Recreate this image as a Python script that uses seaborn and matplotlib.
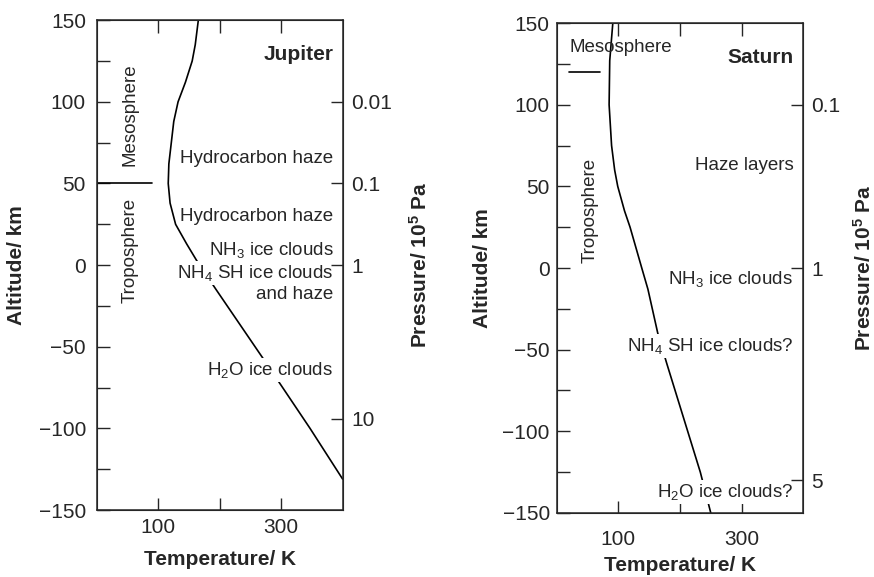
import matplotlib
matplotlib.use("Agg")
import matplotlib.pyplot as plt
import seaborn as sns
import pandas as pd
from matplotlib.ticker import MultipleLocator

# temperature profiles (altitude in km, temperature in K)
jup_alt = [150, 135, 125, 112, 100, 88, 75, 62, 50, 38, 25, 13, 3, -15, -58, -100, -131]
jup_temp = [165, 160, 155, 144, 132, 125, 121, 117, 116, 119, 128, 146, 162, 194, 272, 347, 400]

sat_alt = [150, 127, 100, 75, 60, 50, 35, 25, 0, -13, -40, -59, -125, -150]
sat_temp = [91, 86, 85, 89, 94, 99, 110, 119, 138, 148, 164, 179, 233, 250]

# pressure axis: altitude positions and labels
jup_p_alt = [100, 50, 0, -94]
jup_p_lab = ["0.01", "0.1", "1", "10"]
sat_p_alt = [100, 0, -130]
sat_p_lab = ["0.1", "1", "5"]

# cloud / layer labels: (temperature, altitude, text)
jup_notes = [
    (385, 65, "Hydrocarbon haze"),
    (385, 30, "Hydrocarbon haze"),
    (385, 9, "NH$_3$ ice clouds"),
    (385, -5, "NH$_4$ SH ice clouds"),
    (385, -18, "and haze"),
    (385, -64, "H$_2$O ice clouds"),
]
sat_notes = [
    (384, 63, "Haze layers"),
    (384, -7, "NH$_3$ ice clouds"),
    (384, -48, "NH$_4$ SH ice clouds?"),
    (384, -137, "H$_2$O ice clouds?"),
]

sns.set_style("ticks")
plt.rcParams["font.family"] = ["Liberation Sans", "DejaVu Sans"]
plt.rcParams["mathtext.default"] = "regular"
FS = 13.5      # annotations
TFS = 15       # tick labels
LFS = 15       # axis labels

fig = plt.figure(figsize=(8.74, 5.77), dpi=100)
ax1 = fig.add_axes([0.111, 0.116, 0.281, 0.849])
ax2 = fig.add_axes([0.637, 0.111, 0.282, 0.849])


def draw_panel(ax, alt, temp, notes, p_alt, p_lab, name, xpad, ypad):
    df = pd.DataFrame({"T": temp, "z": alt})
    sns.lineplot(data=df, x="T", y="z", sort=False, estimator=None,
                 color="black", lw=1.2, ax=ax)
    ax.set_xlim(0, 400)
    ax.set_ylim(-150, 150)
    ax.set_xticks([100, 200, 300])
    ax.set_xticklabels(["100", "", "300"])
    ax.yaxis.set_major_locator(MultipleLocator(50))
    ax.yaxis.set_minor_locator(MultipleLocator(25))
    ax.tick_params(axis="y", which="both", direction="in", length=9,
                   width=1, labelsize=TFS, left=True, right=False, pad=ypad)
    ax.tick_params(axis="x", direction="in", length=9, width=1,
                   labelsize=TFS, top=True, pad=xpad)
    ax.set_yticklabels([f"{int(v)}".replace("-", "\u2212")
                        for v in ax.get_yticks()])
    for s in ax.spines.values():
        s.set_linewidth(1.1)
    for t, z, txt in notes:
        ax.text(t, z, txt, ha="right", va="center", fontsize=FS,
                bbox=dict(facecolor="white", edgecolor="none", pad=1.5))
    ax.text(385, 129, name, ha="right", va="center", fontsize=TFS,
            fontweight="bold")
    ax.set_xlabel("Temperature/ K", fontsize=LFS, fontweight="bold")
    ax.set_ylabel("Altitude/ km", fontsize=LFS, fontweight="bold")

    axr = ax.twinx()
    axr.set_ylim(-150, 150)
    axr.set_yticks(p_alt)
    axr.set_yticklabels(p_lab)
    axr.tick_params(axis="y", direction="in", length=9, width=1,
                    labelsize=TFS, pad=6)
    axr.set_ylabel("Pressure/ 10$^5$ Pa", fontsize=LFS, fontweight="bold")
    return axr


r1 = draw_panel(ax1, jup_alt, jup_temp, jup_notes, jup_p_alt, jup_p_lab,
                "Jupiter", 6, 8)
r2 = draw_panel(ax2, sat_alt, sat_temp, sat_notes, sat_p_alt, sat_p_lab,
                "Saturn", 12, 5)

# Jupiter layer boundaries
ax1.plot([0, 90], [50, 50], color="black", lw=1.2)
ax1.text(54, 92, "Mesosphere", rotation=90, ha="center", va="center",
         fontsize=FS)
ax1.text(54, 9, "Troposphere", rotation=90, ha="center", va="center",
         fontsize=FS)

# Saturn layer boundaries
ax2.plot([20, 70], [120, 120], color="black", lw=1.2)
ax2.text(20, 135, "Mesosphere", ha="left", va="center", fontsize=FS)
ax2.text(54, 35, "Troposphere", rotation=90, ha="center", va="center",
         fontsize=FS, bbox=dict(facecolor="white", edgecolor="none", pad=1))

ax1.yaxis.set_label_coords(-0.29, 0.5)
ax2.yaxis.set_label_coords(-0.264, 0.5)
r1.yaxis.set_label_coords(1.27, 0.5)
r2.yaxis.set_label_coords(1.203, 0.5)
ax1.xaxis.set_label_coords(0.5, -0.082)
ax2.xaxis.set_label_coords(0.5, -0.088)

fig.savefig("out.png", dpi=100)
